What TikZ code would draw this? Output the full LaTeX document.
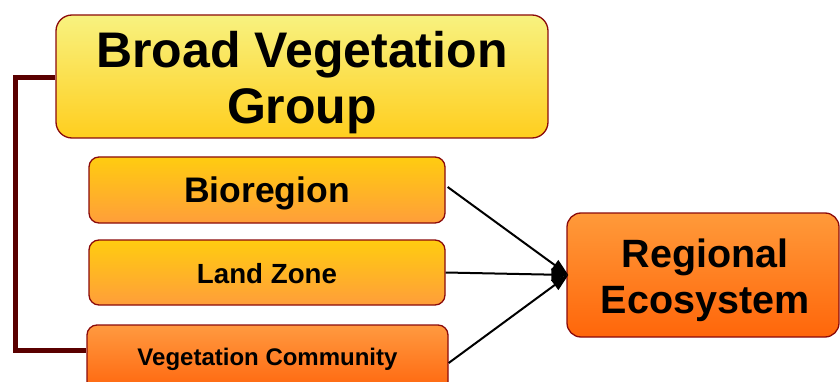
\documentclass[tikz,border=0pt]{standalone}
\usepackage{fontspec}
\setmainfont{Liberation Sans}
\usetikzlibrary{arrows.meta}
\definecolor{brd}{HTML}{8B0A0A}
\definecolor{brk}{HTML}{5A0000}
\tikzset{
  boxbase/.style={draw=brd, line width=1.3pt, inner sep=0pt},
  txt/.style={inner sep=0pt, align=center},
  bvgbox/.style={boxbase, rounded corners=16pt, top color={rgb,255:red,248;green,242;blue,128}, bottom color={rgb,255:red,255;green,206;blue,30}},
  midbox/.style={boxbase, rounded corners=10pt, top color={rgb,255:red,255;green,204;blue,16}, bottom color={rgb,255:red,255;green,158;blue,58}},
  lowbox/.style={boxbase, rounded corners=10pt, top color={rgb,255:red,255;green,154;blue,64}, bottom color={rgb,255:red,255;green,100;blue,12}},
  rebox/.style={boxbase, rounded corners=14pt, top color={rgb,255:red,255;green,154;blue,58}, bottom color={rgb,255:red,255;green,102;blue,10}},
  conn/.style={draw=black, line width=2pt, -{Triangle[length=17pt,width=12pt]}},
  bracket/.style={draw=brk, line width=5pt}
}
\begin{document}
\begin{tikzpicture}[x=1pt,y=-1pt]
\useasboundingbox (0,0) rectangle (840,382);
\node[bvgbox, minimum width=492pt, minimum height=123pt] (bvg) at (302,76.5) {};
\node[txt, font=\bfseries\fontsize{50}{56}\selectfont] (bvgt) at (302,83) {Broad Vegetation\\Group};
\node[midbox, minimum width=356pt, minimum height=66pt] (bio) at (267,190) {};
\node[txt, font=\bfseries\fontsize{35.5}{40}\selectfont] (biot) at (267,193.5) {Bioregion};
\node[midbox, minimum width=356pt, minimum height=65pt] (lz) at (267,272.5) {};
\node[txt, font=\bfseries\fontsize{27.7}{32}\selectfont] (lzt) at (267,274) {Land Zone};
\node[lowbox, minimum width=361pt, minimum height=68pt] (vc) at (267.5,359) {};
\node[txt, font=\bfseries\fontsize{24}{28}\selectfont] (vct) at (267.5,359.5) {Vegetation Community};
\node[rebox, minimum width=272pt, minimum height=124pt] (re) at (703,275) {};
\node[txt, font=\bfseries\fontsize{39.5}{46}\selectfont] (ret) at (705,280) {Regional\\Ecosystem};
\coordinate (bk1) at (15,78);
\coordinate (bk2) at (15,350);
\draw[bracket] (bvg.west |- bk1) -- (bk1) -- (bk2) -- (vc.west |- bk2);
\draw[conn] ([xshift=2pt,yshift=3pt]bio.east) -- ([xshift=2pt]re.west);
\draw[conn] (lz.east) -- ([xshift=2pt]re.west);
\draw[conn] ([xshift=0pt,yshift=-4pt]vc.east) -- ([xshift=2pt]re.west);
\end{tikzpicture}
\end{document}
